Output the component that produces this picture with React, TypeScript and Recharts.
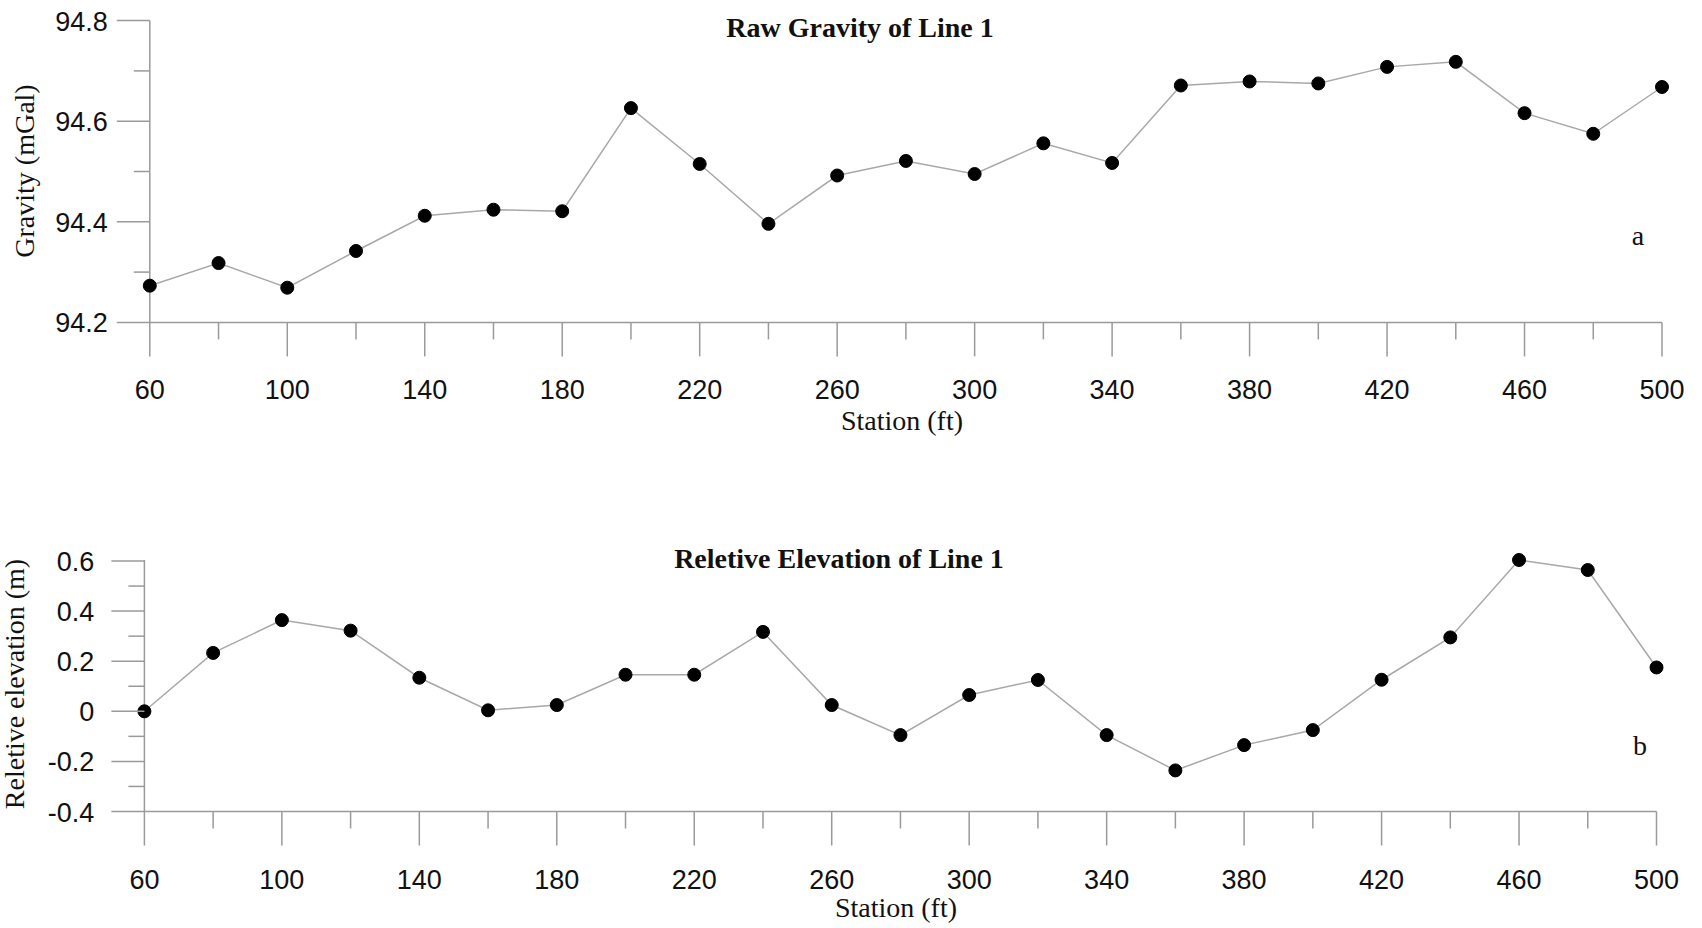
import React from "react";
import { LineChart, Line, XAxis, YAxis } from "recharts";

// stations along line 1 (ft)
const stations = [60, 80, 100, 120, 140, 160, 180, 200, 220, 240, 260, 280, 300, 320, 340, 360, 380, 400, 420, 440, 460, 480, 500];

// raw gravity readings (mGal)
const gravity = [
  94.273, 94.318, 94.269, 94.342, 94.412, 94.424, 94.421, 94.626, 94.515, 94.396, 94.492, 94.521,
  94.495, 94.556, 94.517, 94.671, 94.679, 94.675, 94.708, 94.718, 94.616, 94.575, 94.668,
];

// relative elevation (m)
const elevation = [
  0, 0.233, 0.364, 0.322, 0.134, 0.004, 0.025, 0.146, 0.146, 0.317, 0.025, -0.095,
  0.065, 0.125, -0.095, -0.236, -0.135, -0.075, 0.126, 0.295, 0.604, 0.564, 0.175,
];

const xMajor = [60, 100, 140, 180, 220, 260, 300, 340, 380, 420, 460, 500];
const xMinor = [80, 120, 160, 200, 240, 280, 320, 360, 400, 440, 480];
const gravMajor = [94.2, 94.4, 94.6, 94.8];
const gravMinor = [94.3, 94.5, 94.7];
const elevMajor = [-0.4, -0.2, 0, 0.2, 0.4, 0.6];
const elevMinor = [-0.3, -0.1, 0.1, 0.3, 0.5];

const gravityData = stations.map((s, i) => ({ station: s, value: gravity[i] }));
const elevationData = stations.map((s, i) => ({ station: s, value: elevation[i] }));

const AXIS = "#9a9a9a";
const SANS = "'Liberation Sans', Arial, sans-serif";
const SERIF = "'Liberation Serif', 'Times New Roman', serif";

const near = (list: number[], v: number) => list.some((m) => Math.abs(m - v) < 1e-6);

const XTick = ({ x, y, payload }: any) => {
  const major = near(xMajor, payload.value);
  return (
    <g>
      <line x1={x} x2={x} y1={y} y2={y + (major ? 34 : 17)} stroke={AXIS} strokeWidth={1.5} />
      {major && (
        <text x={x} y={y + 77} textAnchor="middle" fontFamily={SANS} fontSize={27} fill="#111">
          {payload.value}
        </text>
      )}
    </g>
  );
};

const makeYTick = (majors: number[], gap: number) => ({ x, y, payload }: any) => {
  const major = near(majors, payload.value);
  return (
    <g>
      <line x1={x} x2={x - (major ? 33 : 16)} y1={y} y2={y} stroke={AXIS} strokeWidth={1.5} />
      {major && (
        <text x={x - 33 - gap} y={y + 10} textAnchor="end" fontFamily={SANS} fontSize={27} fill="#111">
          {Math.round(payload.value * 10) / 10}
        </text>
      )}
    </g>
  );
};

const GravYTick = makeYTick(gravMajor, 9);
const ElevYTick = makeYTick(elevMajor, 17);

const Txt = ({ x, y, children, bold, rotate }: any) => (
  <div
    style={{
      position: "absolute",
      left: x,
      top: y,
      transform: `translate(-50%, -50%)${rotate ? " rotate(-90deg)" : ""}`,
      fontFamily: SERIF,
      fontSize: 28,
      fontWeight: bold ? "bold" : "normal",
      whiteSpace: "nowrap",
      color: "#111",
      lineHeight: 1,
    }}
  >
    {children}
  </div>
);

export default function App() {
  return (
    <div style={{ position: "absolute", left: 0, top: 0, width: 1702, height: 928, background: "#fff" }}>
      <div style={{ position: "absolute", left: 0, top: 0 }}>
        <LineChart width={1702} height={440} data={gravityData} margin={{ top: 20.6, right: 40, bottom: 0, left: 0 }}>
          <XAxis
            dataKey="station"
            type="number"
            domain={[60, 500]}
            ticks={[...xMajor, ...xMinor].sort((a, b) => a - b)}
            interval={0}
            height={117.6}
            tickSize={0}
            tickMargin={0}
            tickLine={false}
            axisLine={{ stroke: AXIS, strokeWidth: 1.5 }}
            tick={<XTick />}
          />
          <YAxis
            type="number"
            domain={[94.2, 94.8]}
            ticks={[...gravMajor, ...gravMinor].sort((a, b) => a - b)}
            interval={0}
            width={149.8}
            tickSize={0}
            tickMargin={0}
            tickLine={false}
            axisLine={{ stroke: AXIS, strokeWidth: 1.5 }}
            tick={<GravYTick />}
          />
          <Line
            type="linear"
            dataKey="value"
            stroke="#a8a8a8"
            strokeWidth={1.5}
            dot={{ r: 6.5, fill: "#000", stroke: "#000", strokeWidth: 1 }}
            isAnimationActive={false}
          />
        </LineChart>
      </div>
      <div style={{ position: "absolute", left: 0, top: 460 }}>
        <LineChart width={1702} height={468} data={elevationData} margin={{ top: 100, right: 45.5, bottom: 0, left: 0 }}>
          <XAxis
            dataKey="station"
            type="number"
            domain={[60, 500]}
            ticks={[...xMajor, ...xMinor].sort((a, b) => a - b)}
            interval={0}
            height={116.5}
            tickSize={0}
            tickMargin={0}
            tickLine={false}
            axisLine={{ stroke: AXIS, strokeWidth: 1.5 }}
            tick={<XTick />}
          />
          <YAxis
            type="number"
            domain={[-0.4, 0.6]}
            ticks={[...elevMajor, ...elevMinor].sort((a, b) => a - b)}
            interval={0}
            width={144.4}
            tickSize={0}
            tickMargin={0}
            tickLine={false}
            axisLine={{ stroke: AXIS, strokeWidth: 1.5 }}
            tick={<ElevYTick />}
          />
          <Line
            type="linear"
            dataKey="value"
            stroke="#a8a8a8"
            strokeWidth={1.5}
            dot={{ r: 6.5, fill: "#000", stroke: "#000", strokeWidth: 1 }}
            isAnimationActive={false}
          />
        </LineChart>
      </div>

      <Txt x={860} y={28} bold>Raw Gravity of Line 1</Txt>
      <Txt x={902} y={421}>Station (ft)</Txt>
      <Txt x={25} y={171} rotate>Gravity (mGal)</Txt>
      <Txt x={1638} y={236}>a</Txt>

      <Txt x={839} y={559} bold>Reletive Elevation of Line 1</Txt>
      <Txt x={896} y={908}>Station (ft)</Txt>
      <Txt x={15} y={684} rotate>Reletive elevation (m)</Txt>
      <Txt x={1640} y={746}>b</Txt>
    </div>
  );
}
